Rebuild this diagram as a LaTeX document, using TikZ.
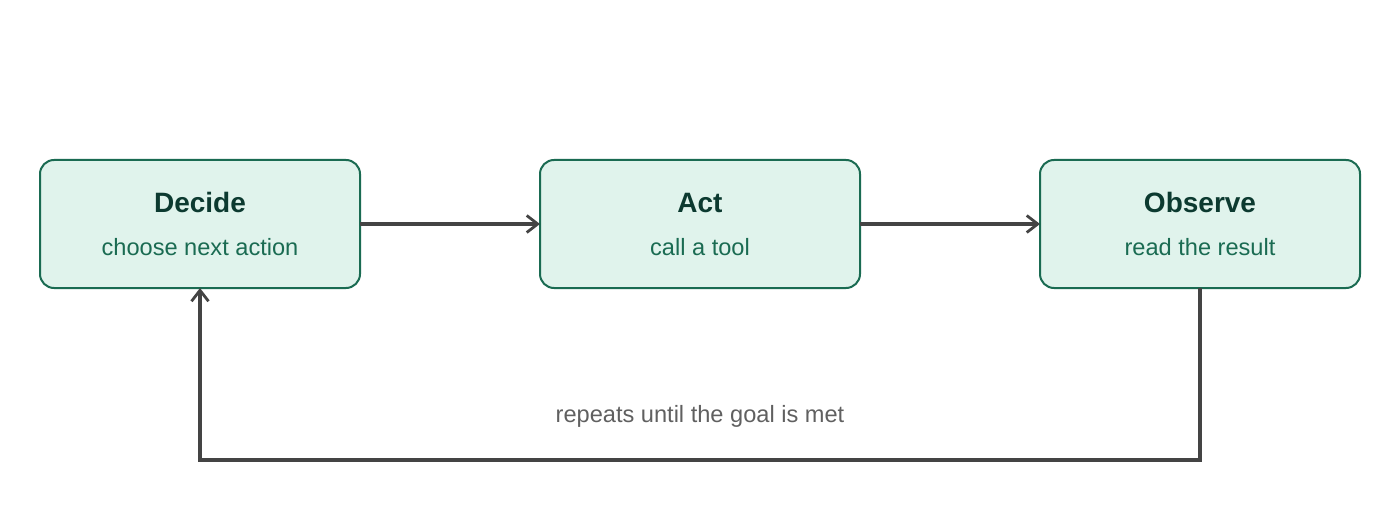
\documentclass[tikz,border=0pt]{standalone}
\usepackage{fontspec}
\setmainfont{Liberation Sans}
\usepackage{xcolor}
\usepackage{tikz}
\usetikzlibrary{positioning, arrows.meta}
\definecolor{boxfill}{HTML}{E0F3EC}
\definecolor{boxline}{HTML}{1A6B52}
\definecolor{titleink}{HTML}{0C3A30}
\definecolor{flowink}{HTML}{444444}
\definecolor{noteink}{HTML}{606060}
\tikzset{
    stage/.style={rectangle, rounded corners=7pt, draw=boxline, line width=1pt, fill=boxfill,
        minimum width=160pt, minimum height=64pt, inner sep=0pt, outer sep=0pt},
    stitle/.style={font=\fontsize{14}{16}\selectfont\bfseries, color=titleink, anchor=base, inner sep=0pt},
    ssub/.style={font=\fontsize{11.8}{14}\selectfont, color=boxline, anchor=base, inner sep=0pt},
    flow/.style={-{Straight Barb[length=5.5pt, width=8.5pt, line width=1.4pt]}, line width=1.6pt, flowink}
}

\begin{document}
\begin{tikzpicture}[
    node distance=90pt,
    note/.style={font=\fontsize{11.8}{14}\selectfont, color=noteink, inner sep=0pt}
]
    \useasboundingbox (0,0) rectangle (700pt,260pt);

    % --- The three stages of the loop ---
    \node[stage] (decide) at (100pt,148pt) {};
    \node[stage, right=of decide] (act) {};
    \node[stage, right=of act] (observe) {};

    % Titles and descriptions
    \foreach \s/\t/\d in {decide/Decide/choose next action, act/Act/call a tool, observe/Observe/read the result} {
        \node[stitle] (\s-title) at ([yshift=5.5pt]\s.center) {\t};
        \node[ssub] (\s-sub) at ([yshift=-15.5pt]\s.center) {\d};
    }

    % --- Forward arrows ---
    \draw[flow] (decide) -- (act);
    \draw[flow] (act) -- (observe);

    % --- Feedback back to the start ---
    \coordinate (loop) at ([yshift=-86pt]observe.south);
    \draw[flow] (observe.south) -- (loop) -| (decide.south);
    \node[note] (repeat) at ([yshift=22pt]loop -| act) {repeats until the goal is met};

\end{tikzpicture}
\end{document}
